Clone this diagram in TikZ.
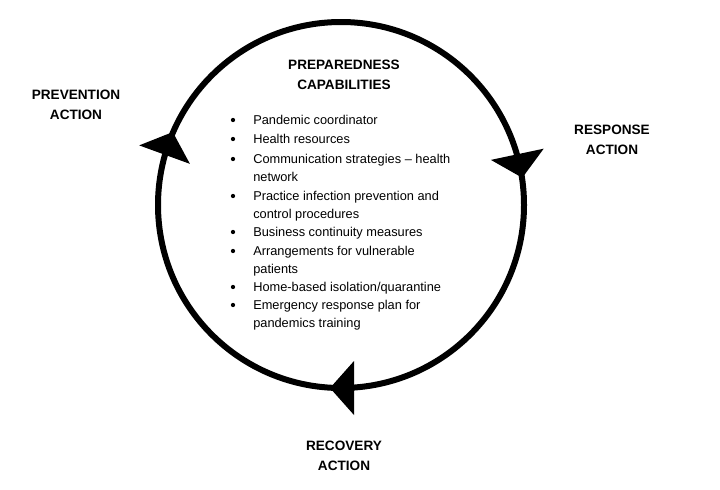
\documentclass[tikz,border=0pt]{standalone}
\usepackage{fontspec}
\setmainfont{Liberation Sans}
\tikzset{
  headlabel/.style={font=\fontsize{10.2}{14.6}\selectfont\bfseries, align=center, inner sep=0.75pt},
  listitem/.style={font=\fontsize{9.6}{13.1}\selectfont, align=left, anchor=north west, inner sep=0.75pt},
  bulletdot/.style={circle, fill=black, inner sep=0pt, minimum size=3.2pt},
  cyclehead/.style={fill=black, draw=none}
}
\begin{document}
\begin{tikzpicture}[x=0.75pt,y=0.75pt,yscale=-1,xscale=1]
        \useasboundingbox (0,0) rectangle (720,489);
        %Shape: Circle [id:cycle]
        \coordinate (c) at (341,205);
        \draw [line width=4.5pt] (c) circle [radius=183];
        %Shape: Triangle [id:head-prevention]
        \fill [cyclehead, shift={(169.0,142.4)}, rotate = 290] (11,0) -- (-13,27) -- (-13,-27) -- cycle;
        %Shape: Triangle [id:head-response]
        \fill [cyclehead, shift={(520.0,167.0)}, rotate = 78] (11,0) -- (-13,27) -- (-13,-27) -- cycle;
        %Shape: Triangle [id:head-recovery]
        \fill [cyclehead, shift={(341,388)}, rotate = 180] (11,0) -- (-13,27) -- (-13,-27) -- cycle;

        % Text Node
        \node [headlabel] (prep) at (344,75) {PREPAREDNESS\\CAPABILITIES};
        % Text Node
        \node [headlabel] (prevention) at (76,105) {PREVENTION\\ACTION};
        % Text Node
        \node [headlabel] (response) at (612,140) {RESPONSE\\ACTION};
        % Text Node
        \node [headlabel] (recovery) at (344,456) {RECOVERY\\ACTION};

        % Bullet list
        \foreach \n/\y in {1/120,2/139,3/159,4/196,5/232,6/251,7/287,8/305}
          \node [bulletdot] (b\n) at (233,\y) {};
        \node [listitem] (item1) at (252,114) {Pandemic coordinator};
        \node [listitem] (item2) at (252,133) {Health resources};
        \node [listitem] (item3) at (252,153) {Communication strategies -- health\\network};
        \node [listitem] (item4) at (252,190) {Practice infection prevention and\\control procedures};
        \node [listitem] (item5) at (252,226) {Business continuity measures};
        \node [listitem] (item6) at (252,245) {Arrangements for vulnerable\\patients};
        \node [listitem] (item7) at (252,281) {Home-based isolation/quarantine};
        \node [listitem] (item8) at (252,299) {Emergency response plan for\\pandemics training};
\end{tikzpicture}
\end{document}
